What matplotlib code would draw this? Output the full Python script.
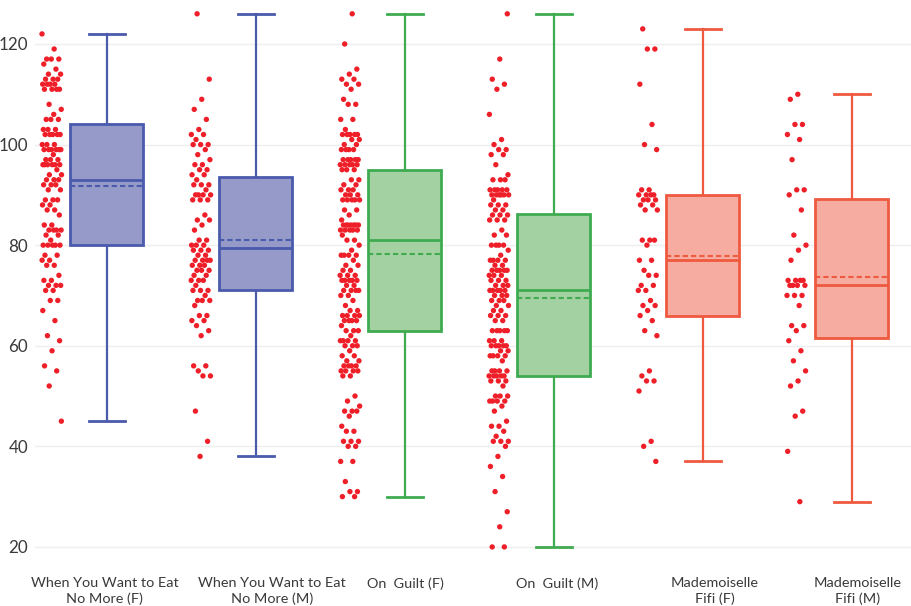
import numpy as np
import matplotlib
matplotlib.use("Agg")
import matplotlib.pyplot as plt

# ---- data -------------------------------------------------------------
categories = [
    "When You Want to Eat\nNo More (F)",
    "When You Want to Eat\nNo More (M)",
    "On  Guilt (F)",
    "On  Guilt (M)",
    "Mademoiselle\nFifi (F)",
    "Mademoiselle\nFifi (M)",
]

eat_f = [122, 119, 117, 117, 117, 116, 115, 114, 114, 113, 113, 113,
         112, 112, 112, 112, 111, 111, 111, 111, 108, 107, 106,
         105, 105, 105, 103, 103, 103, 102, 102, 102, 102, 102,
         100, 100, 100, 99, 99, 99, 99, 99, 99, 98, 97, 97, 97,
         96, 96, 96, 96, 96, 96, 95, 94, 94, 93, 93, 93, 92, 92, 92,
         91, 91, 89, 89, 89, 88, 88, 87, 87, 86, 84, 84, 83, 83, 83, 83,
         82, 82, 81, 80, 80, 80, 80, 80, 78, 78, 77, 77, 76, 76, 74,
         73, 73, 72, 72, 72, 71, 71, 69, 69, 67, 65, 62, 61, 59, 56,
         55, 52, 45]

eat_m = [126, 113, 109, 107, 105, 103, 102, 102, 101, 100, 100, 100,
         99, 98, 97, 96, 96, 95, 95, 94, 94, 93, 92, 92, 92, 91,
         90, 90, 90, 90, 89, 89, 89, 86, 85, 85, 84, 83, 81, 81,
         80, 80, 80, 79, 79, 79, 78, 78, 77, 77, 77, 77, 76, 76, 76,
         75, 75, 75, 74, 74, 73, 73, 73, 72, 71, 71, 71, 70,
         69, 69, 69, 68, 66, 66, 65, 65, 64, 63, 62, 56, 56, 55,
         54, 54, 47, 41, 38]

guilt_f = [126, 120, 115, 114, 113, 113, 112, 112, 111, 109, 108, 108,
           105, 105, 103, 102, 102, 102, 102, 102, 101, 101, 100, 100,
           99, 99, 99, 99, 97, 97, 97, 97, 97, 96, 96, 96, 96, 96,
           95, 95, 95, 93, 93, 92, 92, 91, 91, 91, 90, 90, 90,
           89, 89, 89, 89, 89, 87, 87, 86, 85,
           84, 84, 84, 84, 84, 84, 84, 83, 83, 83, 83, 83, 82, 81, 81,
           80, 79, 78, 78, 78, 78, 77, 76, 76, 75, 75, 74, 74, 74,
           73, 73, 73, 73, 73, 72, 72, 71, 71, 71, 71, 70, 70,
           69, 68, 67, 67, 66, 66, 66, 66, 65, 65, 65, 65, 64,
           63, 63, 63, 62, 61, 61, 61, 61, 60, 60, 60, 59, 58, 58,
           57, 57, 56, 56, 56, 56, 55, 55, 55, 55, 54, 54,
           50, 49, 48, 47, 47, 47, 46, 44, 43, 43, 41, 41, 41, 40, 40,
           37, 37, 33, 31, 31, 30, 30]

guilt_m = [126, 117, 113, 112, 111, 106, 101, 100, 99, 99, 98, 98,
           96, 94, 93, 93, 93, 91, 91, 91, 91, 91, 90, 90, 90, 90, 90, 90,
           89, 88, 88, 88, 87, 87, 86, 86, 86, 85, 85, 85, 83, 82, 82,
           80, 80, 80, 80, 79, 78, 77, 77, 77, 77, 76, 76,
           75, 75, 75, 75, 75, 74, 74, 74, 73, 73, 73, 72, 72, 72,
           71, 71, 71, 71, 71, 70, 70, 70, 69, 69, 69, 68, 68, 67, 67,
           66, 66, 66, 65, 65, 63, 63, 63, 63, 63, 61, 61, 61,
           60, 60, 60, 60, 60, 59, 59, 58, 58, 58, 58, 57,
           55, 55, 55, 55, 54, 54, 54, 54, 54, 53, 53, 53, 52,
           50, 50, 50, 49, 49, 49, 49, 48, 47, 45, 44, 44, 43, 42,
           41, 41, 41, 40, 38, 36, 34, 31, 27, 24, 20, 20]

fifi_f = [123, 119, 119, 112, 104, 100, 99, 91, 91, 90, 90, 90, 90,
          89, 89, 89, 88, 88, 87, 87, 81, 81, 81, 80, 77, 77, 75,
          74, 74, 72, 72, 71, 71, 69, 68, 68, 67, 66, 65, 63, 62,
          55, 54, 53, 53, 51, 41, 40, 37]

fifi_m = [110, 109, 104, 104, 102, 101, 97, 91, 91, 90, 87, 82, 80, 79,
          77, 73, 73, 73, 73, 72, 72, 72, 72, 70, 70, 70, 68, 64, 64,
          63, 61, 59, 57, 55, 53, 52, 47, 46, 39, 29]

groups = [eat_f, eat_m, guilt_f, guilt_m, fifi_f, fifi_m]

# box summary values: lower fence, Q1, median, Q3, upper fence, mean
box_low = [45, 38, 30, 20, 37, 29]
box_q1 = [80, 71, 63, 54, 66, 61.5]
box_median = [93, 79.5, 81, 71, 77, 72]
box_q3 = [104, 93.5, 95, 86.2, 90, 89.2]
box_high = [122, 126, 126, 126, 123, 110]
box_mean = [91.8, 81.1, 78.2, 69.4, 77.8, 73.7]

y_ticks = [20, 40, 60, 80, 100, 120]

# ---- style ------------------------------------------------------------
edge_colors = ["#4a5aad", "#4a5aad", "#3fab50", "#3fab50", "#ef5a3f", "#ef5a3f"]
fill_colors = ["#959ac9", "#959ac9", "#a3d1a1", "#a3d1a1", "#f6aca1", "#f6aca1"]
point_color = "#ee1f28"
text_color = "#3a3a3a"
label_shift = [-0.017, 0.11, 0.0, 0.02, 0.08, 0.04]

plt.rcParams["font.family"] = ["Lato", "DejaVu Sans"]

fig = plt.figure(figsize=(9.12, 6.06), dpi=100)
ax = fig.add_axes([35 / 912, 46 / 606, 877 / 912, 555 / 606])

# pick a label size so that the widest line spans about 143 px
renderer = fig.canvas.get_renderer()
probe = fig.text(0, 0, "When You Want to Eat", fontsize=12)
probe_w = probe.get_window_extent(renderer).width
probe.remove()
label_size = 12 * 143 / probe_w

positions = np.arange(len(categories))

stats = []
for i in range(len(categories)):
    stats.append(dict(med=box_median[i], q1=box_q1[i], q3=box_q3[i],
                      whislo=box_low[i], whishi=box_high[i],
                      mean=box_mean[i], fliers=[]))

bp = ax.bxp(stats, positions=positions, widths=0.49, capwidths=0.245,
            patch_artist=True, showmeans=True, meanline=True,
            showfliers=False, manage_ticks=False)

for i in range(len(categories)):
    ec = edge_colors[i]
    bp["boxes"][i].set(facecolor=fill_colors[i], edgecolor=ec, linewidth=2.0,
                       zorder=3)
    bp["medians"][i].set(color=ec, linewidth=2.0, zorder=4)
    bp["means"][i].set(color=ec, linewidth=1.5, linestyle=(0, (2.5, 1.5)),
                       zorder=4)
    for w in bp["whiskers"][2 * i:2 * i + 2]:
        w.set(color=ec, linewidth=1.6, zorder=2)
    for c in bp["caps"][2 * i:2 * i + 2]:
        c.set(color=ec, linewidth=2.0, zorder=2)

# jittered sample points to the left of each box
golden = 0.6180339887
for i, vals in enumerate(groups):
    vals = np.asarray(vals, dtype=float)
    k = np.arange(len(vals))
    spread = ((k * golden + 0.31 * i) % 1.0) * 2 - 1
    xs = positions[i] - 0.37 + 0.066 * spread
    ax.scatter(xs, vals, s=15, color=point_color, edgecolors="none",
               zorder=5)

ax.set_xlim(-0.483, 5.403)
ax.set_ylim(17.4, 127.75)
ax.set_yticks(y_ticks)
ax.set_yticklabels([str(t) for t in y_ticks])
ax.set_xticks(positions + np.array(label_shift))
ax.set_xticklabels(categories, linespacing=1.3)

ax.grid(axis="y", color="#eeeeee", linewidth=1.0, zorder=0)
ax.set_axisbelow(True)
for s in ax.spines.values():
    s.set_visible(False)
ax.tick_params(axis="both", length=0, colors=text_color)
ax.tick_params(axis="x", pad=12.5, labelsize=label_size + 0.3)
ax.tick_params(axis="y", pad=5, labelsize=label_size + 2.2)

fig.savefig("out.png", dpi=100)
